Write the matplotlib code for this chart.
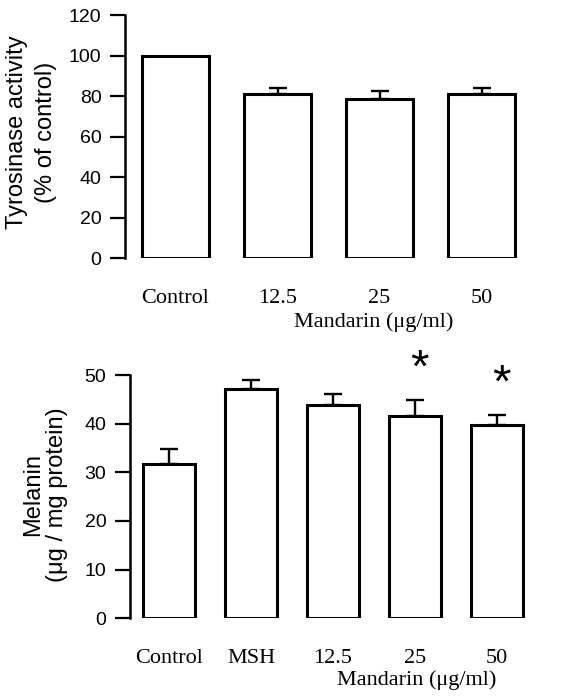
import matplotlib
matplotlib.use("Agg")
import matplotlib.pyplot as plt
import numpy as np

# top panel: tyrosinase activity
tyr_labels = ["Control", "12.5", "25", "50"]
tyr_values = [100, 81, 78.5, 81.3]
tyr_err = [0, 3.3, 4, 3]

# bottom panel: melanin content
mel_labels = ["Control", "MSH", "12.5", "25", "50"]
mel_values = [31.7, 47.1, 43.8, 41.7, 39.7]
mel_err = [3.2, 2, 2.3, 3.2, 2.2]
mel_star = [False, False, False, True, True]

serif = "Liberation Serif"
sans = "Liberation Sans"

fig = plt.figure(figsize=(5.87, 7), dpi=100)


def style_axis(ax, ymax, step):
    for s in ["top", "right", "bottom"]:
        ax.spines[s].set_visible(False)
    ax.spines["left"].set_linewidth(1.8)
    ax.set_ylim(0, ymax)
    ax.set_yticks(np.arange(0, ymax + 1, step))
    ax.tick_params(axis="y", direction="out", length=11, width=1.6, labelsize=14, pad=6)
    ax.tick_params(axis="x", length=0, pad=22)
    for t in ax.get_yticklabels():
        t.set_fontfamily(sans)
    for t in ax.get_xticklabels():
        t.set_fontfamily(serif)
        t.set_fontsize(16)


def draw_bars(ax, x, vals, errs, width):
    ax.bar(x, vals, width=width, color="white", edgecolor="black", linewidth=2.2, zorder=2)
    x = np.asarray(x)
    vals = np.asarray(vals)
    errs = np.asarray(errs)
    keep = errs > 0
    ax.errorbar(x[keep], vals[keep], yerr=[np.zeros(keep.sum()), errs[keep]], fmt="none",
                ecolor="black", elinewidth=1.7, capsize=6.5, capthick=1.7, zorder=1)


# top
ax1 = fig.add_axes([0.213, 0.631, 0.677, 0.347])
x1 = np.arange(len(tyr_labels))
draw_bars(ax1, x1, tyr_values, tyr_err, 0.65)
ax1.set_xlim(-0.495, 3.4)
ax1.set_xticks(x1)
ax1.set_xticklabels(tyr_labels)
style_axis(ax1, 120, 20)
ax1.set_ylabel("Tyrosinase activity\n(% of control)", fontfamily=sans, fontsize=17,
               linespacing=1.4)
ax1.yaxis.set_label_coords(-0.171, 0.52)
fig.text(374 / 587, 1 - 322 / 700, "Mandarin (\u03bcg/ml)", fontfamily=serif, fontsize=16,
         ha="center", va="center")

# bottom
ax2 = fig.add_axes([0.2215, 0.117, 0.681, 0.347])
x2 = np.arange(len(mel_labels))
draw_bars(ax2, x2, mel_values, mel_err, 0.63)
for xi, v, e, s in zip(x2, mel_values, mel_err, mel_star):
    if s:
        ax2.text(xi + 0.05, v + e + 1.6, "*", ha="center", va="bottom", fontsize=34,
                 fontfamily=sans, clip_on=False)
ax2.set_xlim(-0.476, 4.4)
ax2.set_xticks(x2)
ax2.set_xticklabels(mel_labels)
style_axis(ax2, 50, 10)
ax2.set_ylabel("Melanin\n(\u03bcg / mg protein)", fontfamily=sans, fontsize=17,
               linespacing=1.1)
ax2.yaxis.set_label_coords(-0.155, 0.51)
fig.text(417 / 587, 1 - 680 / 700, "Mandarin (\u03bcg/ml)", fontfamily=serif, fontsize=16,
         ha="center", va="center")

fig.savefig("out.png", dpi=100)
